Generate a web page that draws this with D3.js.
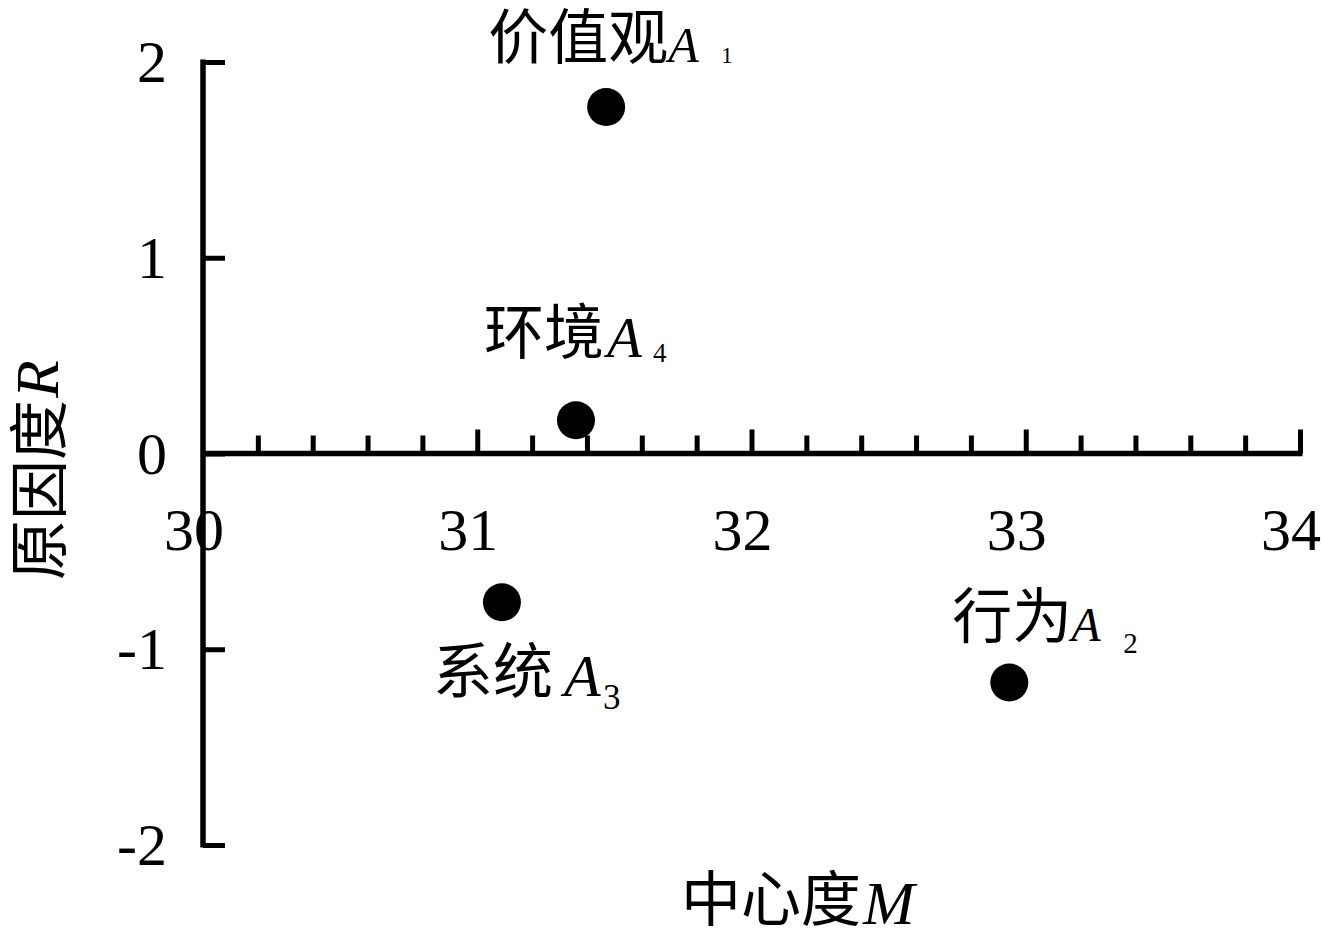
<!DOCTYPE html>
<html><head><meta charset="utf-8">
<script src="https://cdn.jsdelivr.net/npm/d3@7"></script>
<style>html,body{margin:0;padding:0;background:#fff;}</style>
</head><body>
<svg id="chart" width="1325" height="945"></svg>
<script>
// ---- data ----
const names = ["价值观", "行为", "系统", "环境"];
const subscripts = ["1", "2", "3", "4"];
const centrality = [31.47, 32.94, 31.09, 31.36];   // 中心度 M
const causeDegree = [1.77, -1.17, -0.76, 0.17];    // 原因度 R
const xTicks = [30, 31, 32, 33, 34];
const yTicks = [-2, -1, 0, 1, 2];
const xMinorStep = 0.2;

// ---- layout ----
const svg = d3.select("#chart");
const x = d3.scaleLinear().domain([30, 34]).range([203, 1300]);
const y = d3.scaleLinear().domain([-2, 2]).range([845, 62]);
const CJK = "'Noto Sans CJK SC', sans-serif";
const SERIF = "'Liberation Serif', 'Times New Roman', serif";

// label offsets relative to each point (layout only)
const labelLayout = [
  {dx: -118, dy: -45, ax: 62, aSize: 50, sx: 115, sSize: 23, sdy: 1},
  {dx: -57,  dy: -42, ax: 62, aSize: 48, sx: 114, sSize: 29, sdy: 12},
  {dx: -69,  dy: 94,  ax: 62, aSize: 60, sx: 101, sSize: 35, sdy: 13},
  {dx: -92,  dy: -63, ax: 31, aSize: 57, sx: 77,  sSize: 27, sdy: 5}
];

// y axis (vertical line at x=30, ticks pointing right)
const yAxis = d3.axisRight(y).tickValues(yTicks).tickSize(22).tickFormat("");
const gy = svg.append("g").attr("transform", `translate(${x(30)},0)`).call(yAxis);
gy.select(".domain").remove();
gy.selectAll(".tick line").attr("stroke", "#000").attr("stroke-width", 5);
svg.append("line").attr("x1", x(30)).attr("x2", x(30))
  .attr("y1", y(2) - 2.5).attr("y2", y(-2) + 2.5)
  .attr("stroke", "#000").attr("stroke-width", 5.5);

// y tick labels
svg.append("g").selectAll("text").data(yTicks).join("text")
  .attr("x", 167).attr("y", d => y(d) + 20)
  .attr("text-anchor", "end")
  .attr("font-family", SERIF).attr("font-size", 60)
  .text(d => d < 0 ? "-" + Math.abs(d) : d);

// x axis (horizontal line at y=0, ticks pointing up)
const minorVals = d3.range(30 + xMinorStep, 34 + 1e-9, xMinorStep).map(v => +v.toFixed(2));
const gx = svg.append("g").attr("transform", `translate(0,${y(0)})`);
gx.call(d3.axisTop(x).tickValues(minorVals.filter(v => Math.abs(v - Math.round(v)) > 1e-6)).tickSize(18).tickFormat(""));
gx.select(".domain").remove();
const gx2 = svg.append("g").attr("transform", `translate(0,${y(0)})`);
gx2.call(d3.axisTop(x).tickValues(xTicks.filter(v => v > 30)).tickSize(24).tickFormat(""));
gx2.select(".domain").remove();
svg.selectAll(".tick line").attr("stroke", "#000").attr("stroke-width", 5);
svg.append("line").attr("x1", x(30)).attr("x2", x(34) + 2.5)
  .attr("y1", y(0)).attr("y2", y(0))
  .attr("stroke", "#000").attr("stroke-width", 5.5);

// x tick labels
svg.append("g").selectAll("text").data(xTicks).join("text")
  .attr("x", d => x(d) - 9).attr("y", 550)
  .attr("text-anchor", "middle")
  .attr("font-family", SERIF).attr("font-size", 60)
  .text(d => d);

// points
const pts = names.map((n, i) => ({name: n, sub: subscripts[i], m: centrality[i], r: causeDegree[i], L: labelLayout[i]}));
svg.append("g").selectAll("circle").data(pts).join("circle")
  .attr("cx", d => x(d.m)).attr("cy", d => y(d.r)).attr("r", 19).attr("fill", "#000");

// point labels
pts.forEach(d => {
  const px = x(d.m), py = y(d.r), L = d.L;
  const base = py + L.dy;
  const t = svg.append("text").attr("fill", "#000");
  t.append("tspan").attr("x", px + L.dx).attr("y", base - 3)
    .attr("font-family", CJK).attr("font-size", 60).text(d.name);
  t.append("tspan").attr("x", px + L.ax).attr("y", base)
    .attr("font-family", SERIF).attr("font-style", "italic").attr("font-size", L.aSize).text("A");
  t.append("tspan").attr("x", px + L.sx).attr("y", base + L.sdy)
    .attr("font-family", SERIF).attr("font-size", L.sSize).text(d.sub);
});

// axis titles
const xt = svg.append("text").attr("x", 681).attr("y", 924);
xt.append("tspan").attr("font-family", CJK).attr("font-size", 60).attr("dy", -3).text("中心度");
xt.append("tspan").attr("font-family", SERIF).attr("font-style", "italic").attr("font-size", 62).attr("dy", 3).attr("dx", 2).text("M");

const yt = svg.append("text").attr("transform", "translate(58,580) rotate(-90)").attr("x", 0).attr("y", 0);
yt.append("tspan").attr("font-family", CJK).attr("font-size", 60).attr("dy", 3).text("原因度");
yt.append("tspan").attr("font-family", SERIF).attr("font-style", "italic").attr("font-size", 62).attr("dy", -3).attr("dx", 2).text("R");
</script>
</body></html>
